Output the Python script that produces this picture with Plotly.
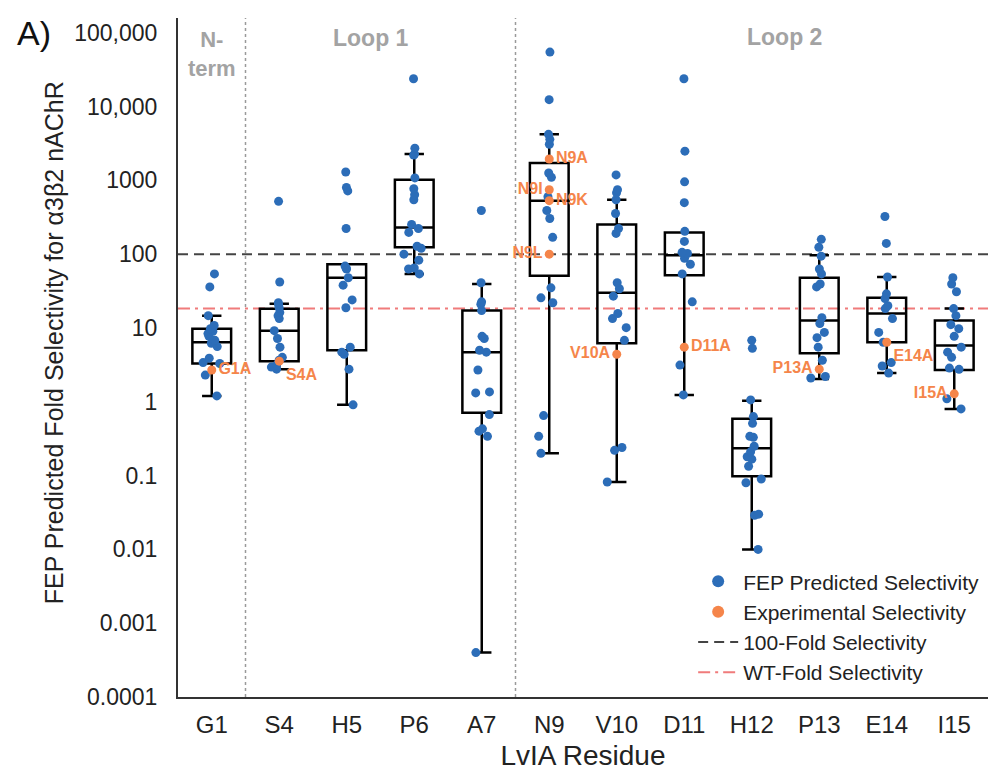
import plotly.graph_objects as go

# ---------------- data ----------------
CATS = ["G1", "S4", "H5", "P6", "A7", "N9", "V10", "D11", "H12", "P13", "E14", "I15"]

FEP = {
    "G1": [54, 36, 14.7, 10.8, 9.8, 9.0, 8.4, 7.7, 6.8, 6.2, 5.6, 3.9, 3.4, 3.3, 2.3, 1.2],
    "S4": [520, 42, 22, 20.7, 18.8, 16.2, 14.7, 13.4, 9.2, 7.2, 5.5, 4.0, 3.66, 3.14, 2.95, 2.77],
    "H5": [1300, 800, 720, 223, 69, 65, 63, 48, 38, 24, 18.8, 5.5, 4.7, 4.4, 2.77, 0.91],
    "P6": [23800, 2730, 2270, 2200, 1080, 769, 638, 547, 253, 223, 197, 128, 120, 100, 83, 65, 63, 54],
    "A7": [390, 41, 22.6, 21, 17.2, 7.7, 7.2, 5.0, 4.7, 2.7, 1.36, 1.32, 0.67, 0.43, 0.40, 0.34, 0.0004],
    "N9": [54700, 12400, 4200, 3600, 3090, 1260, 1100, 600, 390, 304, 169, 35, 25.6, 22, 0.65, 0.34, 0.2],
    "V10": [1186, 745, 680, 547, 356, 223, 191, 41, 34, 27, 15.7, 13.4, 10.1, 6.8, 0.24, 0.22, 0.082],
    "D11": [23800, 2490, 955, 499, 204, 149, 106, 102, 88, 73, 54, 22.6, 3.14, 1.24],
    "H12": [6.8, 5.3, 1.06, 0.63, 0.51, 0.34, 0.33, 0.25, 0.21, 0.18, 0.167, 0.134, 0.09, 0.08, 0.03, 0.029, 0.01],
    "P13": [159, 124, 94, 63, 54, 39.5, 36, 13.8, 11.5, 8.7, 7.4, 5.5, 3.66, 2.2, 2.1],
    "E14": [324, 140, 49, 29, 25, 20, 18.3, 13.4, 8.7, 6.4, 3.4, 3.05, 2.45],
    "I15": [48, 39.5, 31, 18.3, 14.7, 11.1, 9.8, 7.7, 5.5, 4.7, 4.0, 2.86, 2.75, 1.1, 0.8],
}

# box statistics
BOX_Q1 = [3.3, 3.55, 5.0, 124, 0.71, 51, 6.2, 52, 0.098, 4.55, 6.4, 2.7]
BOX_MED = [6.4, 9.2, 48, 230, 4.7, 531, 30, 97, 0.234, 12.6, 15.7, 5.8]
BOX_Q3 = [9.8, 18.2, 73, 1016, 17.2, 1718, 253, 197, 0.59, 48, 25.7, 12.6]
BOX_LOW = [1.2, 2.77, 0.91, 54, 0.0004, 0.2, 0.082, 1.24, 0.01, 2.04, 2.45, 0.8]
BOX_UP = [14.7, 21.3, 73, 2270, 39.5, 4200, 547, 197, 1.03, 97, 49, 18.3]

EXP_CATS = ["G1", "S4", "N9", "N9", "N9", "N9", "V10", "D11", "P13", "E14", "I15"]
EXP_VALS = [2.7, 3.55, 1945, 745, 531, 100, 4.4, 5.5, 2.77, 6.4, 1.28]
EXP_LABELS = ["G1A", "S4A", "N9A", "N9I", "N9K", "N9L", "V10A", "D11A", "P13A", "E14A", "I15A"]

WT_FOLD = 18.3
THRESHOLD = 100

Y_TICKVALS = [1e-4, 1e-3, 1e-2, 1e-1, 1, 10, 100, 1000, 1e4, 1e5]
Y_TICKTEXT = ["0.0001", "0.001", "0.01", "0.1", "1", "10", "100", "1000", "10,000", "100,000"]

# ---------------- style ----------------
FONT = "Arial, Liberation Sans, sans-serif"
BLUE = "#2C6DB8"
ORANGE = "#F5854A"
GREY_TXT = "#A3A3A3"
LABEL_POS = ["middle right", "bottom right", "middle right", "middle left", "middle right",
             "middle left", "middle left", "middle right", "middle left", "bottom right", "middle left"]

pts_x = [c for c in CATS for _ in FEP[c]]
pts_y = [v for c in CATS for v in FEP[c]]

fig = go.Figure()

# boxes
fig.add_trace(go.Box(
    x=CATS, q1=BOX_Q1, median=BOX_MED, q3=BOX_Q3,
    lowerfence=BOX_LOW, upperfence=BOX_UP,
    boxpoints=False, fillcolor="rgba(0,0,0,0)",
    line=dict(color="black", width=2.5), whiskerwidth=0.5,
    showlegend=False, hoverinfo="skip",
))

# FEP predicted points (jittered by plotly)
fig.add_trace(go.Box(
    x=pts_x, y=pts_y, boxpoints="all", jitter=0.55, pointpos=0,
    fillcolor="rgba(0,0,0,0)", line=dict(color="rgba(0,0,0,0)", width=0),
    marker=dict(color=BLUE, size=9), showlegend=False,
))

# experimental points with labels
fig.add_trace(go.Scatter(
    x=EXP_CATS, y=EXP_VALS, mode="markers+text", text=EXP_LABELS,
    textposition=LABEL_POS,
    marker=dict(color=ORANGE, size=9),
    textfont=dict(color=ORANGE, size=16, family=FONT, weight="bold"),
    showlegend=False,
))

# legend-only entries for the markers
fig.add_trace(go.Scatter(x=[None], y=[None], mode="markers",
                         marker=dict(color=BLUE, size=12),
                         name="FEP Predicted Selectivity", legendrank=1))
fig.add_trace(go.Scatter(x=[None], y=[None], mode="markers",
                         marker=dict(color=ORANGE, size=12),
                         name="Experimental Selectivity", legendrank=2))

# reference lines
fig.add_shape(type="line", xref="paper", x0=0, x1=1, yref="y", y0=THRESHOLD, y1=THRESHOLD,
              line=dict(color="#444444", width=2, dash="10px,6px"),
              showlegend=True, name="100-Fold Selectivity", legendrank=3, layer="below")
fig.add_shape(type="line", xref="paper", x0=0, x1=1, yref="y", y0=WT_FOLD, y1=WT_FOLD,
              line=dict(color="#F07B7B", width=2, dash="12px,5px,3px,5px"),
              showlegend=True, name="WT-Fold Selectivity", legendrank=4, layer="below")
for xv in (0.5, 4.5):
    fig.add_shape(type="line", xref="x", x0=xv, x1=xv, yref="paper", y0=0, y1=1,
                  line=dict(color="#9A9A9A", width=1.5, dash="dot"), layer="below")

ann = [
    dict(text="A)", xref="paper", yref="paper", x=-0.201, y=0.978, xanchor="left",
         yanchor="middle", showarrow=False, font=dict(size=34, color="#111", family=FONT)),
    dict(text="N-<br>term", xref="x", yref="paper", x=0, y=0.947, xanchor="center",
         yanchor="middle", showarrow=False,
         font=dict(size=22, color=GREY_TXT, family=FONT, weight="bold"), align="center"),
    dict(text="Loop 1", xref="x", yref="paper", x=2.36, y=0.971, xanchor="center",
         yanchor="middle", showarrow=False,
         font=dict(size=23, color=GREY_TXT, family=FONT, weight="bold")),
    dict(text="Loop 2", xref="x", yref="paper", x=8.48, y=0.972, xanchor="center",
         yanchor="middle", showarrow=False,
         font=dict(size=23, color=GREY_TXT, family=FONT, weight="bold")),
    dict(text="FEP Predicted Fold Selectivity for α3β2 nAChR", xref="paper", yref="paper",
         x=-0.153, y=0.521, textangle=-90, showarrow=False, xanchor="center", yanchor="middle",
         font=dict(size=25, color="#222", family=FONT)),
]

fig.update_layout(
    width=996, height=774,
    margin=dict(l=178, r=8, t=18, b=75),
    plot_bgcolor="white", paper_bgcolor="white",
    boxmode="overlay", boxgap=0.18,
    font=dict(family=FONT, color="#222"),
    annotations=ann,
    legend=dict(x=0.636, y=0.2, xanchor="left", yanchor="top",
                bgcolor="rgba(0,0,0,0)", font=dict(size=21, family=FONT, color="#222"),
                tracegroupgap=0, itemwidth=40),
    xaxis=dict(type="category", categoryorder="array", categoryarray=CATS,
               range=[-0.5, 11.5], showline=True, linecolor="#333", linewidth=2,
               showgrid=False, zeroline=False, ticks="", tickfont=dict(size=24),
               ticklabelstandoff=5,
               title=dict(text="LvIA Residue", font=dict(size=28), standoff=9)),
    yaxis=dict(type="log", range=[-4, 5.2], tickvals=Y_TICKVALS, ticktext=Y_TICKTEXT,
               showline=True, linecolor="#333", linewidth=2, showgrid=False,
               zeroline=False, ticks="", tickfont=dict(size=23), ticklabelstandoff=14),
)

fig.write_html("out.html", config={"displayModeBar": False},
               post_script="document.body.style.margin='0px';")
